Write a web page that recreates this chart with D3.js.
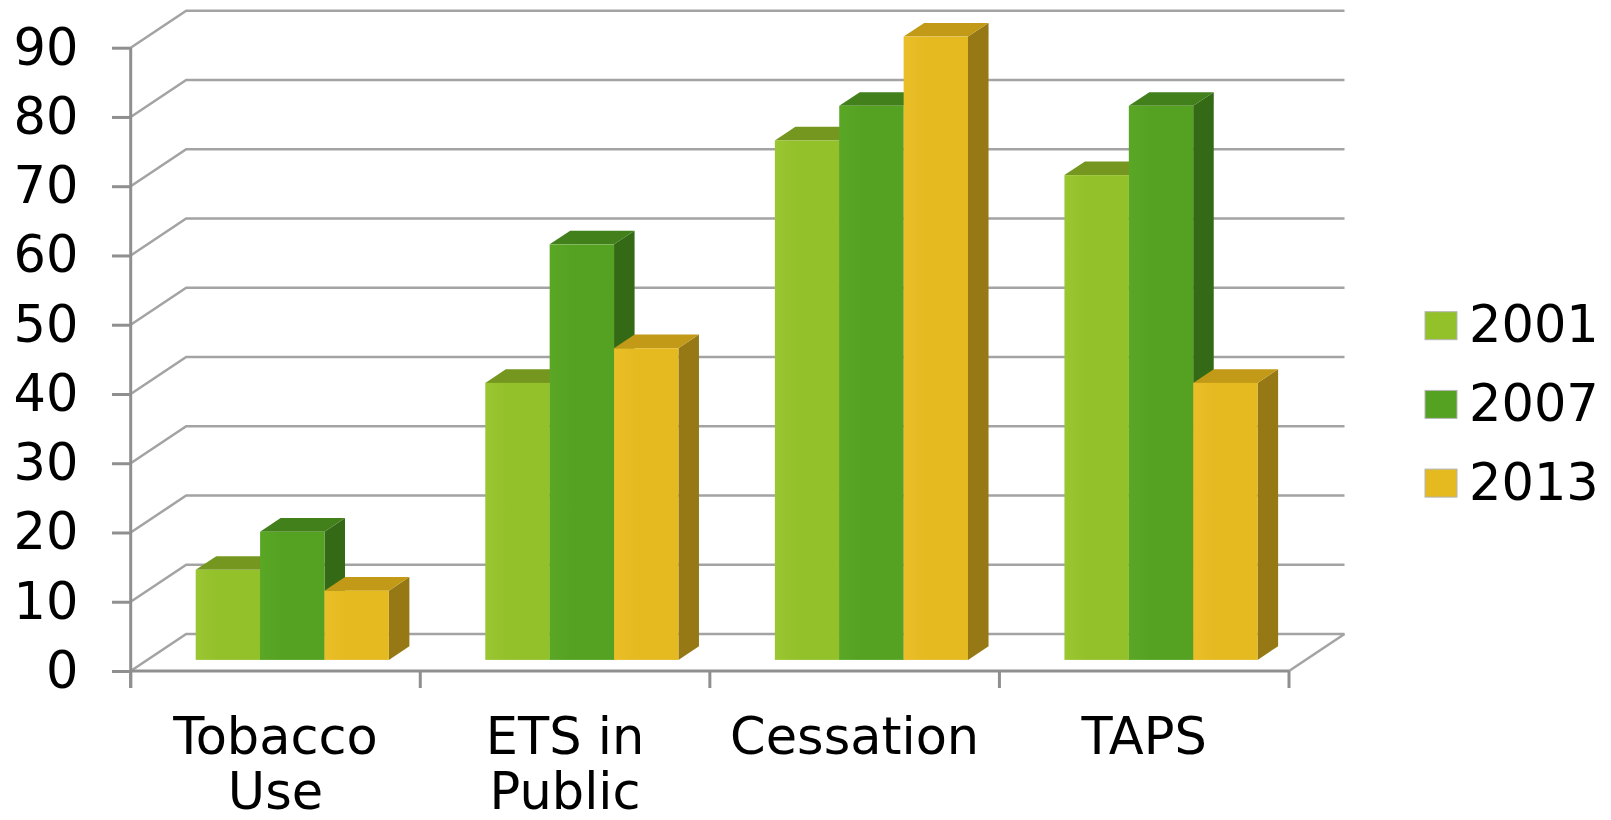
<!DOCTYPE html>
<html>
<head>
<meta charset="utf-8">
<script src="https://cdn.jsdelivr.net/npm/d3@7"></script>
<style>
  html, body { margin: 0; padding: 0; background: #fff; }
  svg { display: block; font-family: "DejaVu Sans", sans-serif; }
</style>
</head>
<body>
<script>
// Chart data
const categories = ["Tobacco Use", "ETS in Public", "Cessation", "TAPS"];
const categoryLines = [["Tobacco", "Use"], ["ETS in", "Public"], ["Cessation"], ["TAPS"]];
const series = ["2001", "2007", "2013"];
const values2001 = [13, 40, 75, 70];
const values2007 = [18.5, 60, 80, 80];
const values2013 = [10, 45, 90, 40];
const yTicks = [0, 10, 20, 30, 40, 50, 60, 70, 80, 90];

const seriesValues = [values2001, values2007, values2013];
const frontColors = ["#93c12a", "#55a222", "#e5b920"];
const frontLight  = ["#9ac631", "#5aa726", "#e9be27"];
const topColors   = ["#75971f", "#41801a", "#c29a17"];
const sideColors  = ["#6a8a1c", "#346a15", "#967815"];

const W = 1611, H = 820;
const svg = d3.select("body").append("svg").attr("width", W).attr("height", H);

// Oblique depth of the plot box (back wall offset)
const depth = { dx: 55.5, dy: -37 };
const barFront = 0.3, barBack = 0.67;
const gridColor = "#a3a3a3", axisColor = "#8f8f8f";

const y = d3.scaleLinear().domain([0, 90]).range([671, 47.7]);
const x0 = d3.scaleBand().domain(categories).range([130.7, 1289]);
const bw = x0.bandwidth();
const x1 = d3.scaleBand().domain(series).range([bw * 0.167, bw * 0.834]);

const xLeft = x0.range()[0], xRight = x0.range()[1];

// Gradients for front faces
const defs = svg.append("defs");
series.forEach((s, j) => {
  const g = defs.append("linearGradient").attr("id", "front" + j)
    .attr("x1", "0%").attr("x2", "100%").attr("y1", "0%").attr("y2", "0%");
  g.append("stop").attr("offset", "0%").attr("stop-color", frontLight[j]);
  g.append("stop").attr("offset", "35%").attr("stop-color", frontColors[j]);
  g.append("stop").attr("offset", "100%").attr("stop-color", frontColors[j]);
});

// Back wall gridlines with their diagonal on the left side wall
const grid = svg.append("g").attr("fill", "none").attr("stroke", gridColor).attr("stroke-width", 2.5);
yTicks.forEach(t => {
  const yy = y(t);
  grid.append("path").attr("d",
    `M${xLeft},${yy}L${xLeft + depth.dx},${yy + depth.dy}L${xRight + depth.dx},${yy + depth.dy}`);
});
// Right edge of the floor
grid.append("path").attr("d",
  `M${xRight},${y(0)}L${xRight + depth.dx},${y(0) + depth.dy}`);

// Front floor edge and category ticks
const axes = svg.append("g").attr("stroke", axisColor).attr("stroke-width", 3).attr("fill", "none");
axes.append("line").attr("x1", xLeft).attr("x2", xRight).attr("y1", y(0)).attr("y2", y(0));
const bounds = categories.map(c => x0(c)).concat([xRight]);
bounds.forEach(bx => {
  axes.append("line").attr("x1", bx).attr("x2", bx).attr("y1", y(0)).attr("y2", y(0) + 17);
});

// Y axis
const yAxis = svg.append("g")
  .attr("transform", `translate(${xLeft},0)`)
  .call(d3.axisLeft(y).tickValues(yTicks).tickSize(18.7).tickPadding(33.5).tickSizeOuter(0));
yAxis.select(".domain").remove();
yAxis.selectAll(".tick line").attr("stroke", axisColor).attr("stroke-width", 3);
yAxis.selectAll(".tick text")
  .attr("fill", "#000").attr("font-size", 51).attr("font-family", "DejaVu Sans, sans-serif");
axes.append("line").attr("x1", xLeft).attr("x2", xLeft).attr("y1", y(90)).attr("y2", y(0) + 17);

// 3D bars
const bars = svg.append("g");
const sx = (barBack - barFront) * depth.dx, sy = (barBack - barFront) * depth.dy;
categories.forEach((c, i) => {
  series.forEach((s, j) => {
    const v = seriesValues[j][i];
    const x = x0(c) + x1(s) + barFront * depth.dx;
    const w = x1.bandwidth();
    const yb = y(0) + barFront * depth.dy;
    const yt = y(v) + barFront * depth.dy;
    const g = bars.append("g");
    g.append("path").attr("fill", sideColors[j])
      .attr("d", `M${x + w},${yt}L${x + w + sx},${yt + sy}L${x + w + sx},${yb + sy}L${x + w},${yb}Z`);
    g.append("path").attr("fill", topColors[j])
      .attr("d", `M${x},${yt}L${x + sx},${yt + sy}L${x + w + sx},${yt + sy}L${x + w},${yt}Z`);
    g.append("rect").attr("x", x).attr("y", yt).attr("width", w).attr("height", yb - yt)
      .attr("fill", `url(#front${j})`);
  });
});

// Category labels
const labels = svg.append("g").attr("font-size", 51).attr("fill", "#000").attr("text-anchor", "middle");
categories.forEach((c, i) => {
  const t = labels.append("text").attr("x", x0(c) + bw / 2).attr("y", 754);
  categoryLines[i].forEach((line, k) => {
    t.append("tspan").attr("x", x0(c) + bw / 2).attr("dy", k === 0 ? 0 : 55).text(line);
  });
});

// Legend
const legend = svg.append("g");
series.forEach((s, j) => {
  const ly = 311.7 + j * 78.7;
  legend.append("rect").attr("x", 1425).attr("y", ly).attr("width", 32).attr("height", 28)
    .attr("fill", frontColors[j]).attr("stroke", "#b5b5b5").attr("stroke-width", 1);
  legend.append("text").attr("x", 1469).attr("y", ly + 30.6)
    .attr("font-size", 51).attr("fill", "#000").text(s);
});
</script>
</body>
</html>
